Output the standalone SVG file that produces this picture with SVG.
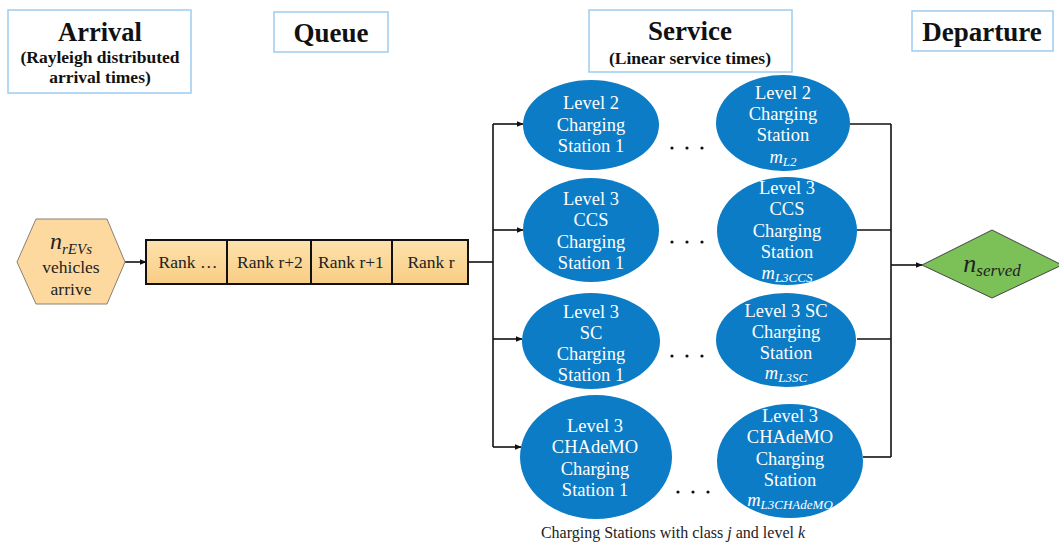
<svg xmlns="http://www.w3.org/2000/svg" width="1059" height="542" viewBox="0 0 1059 542">
<defs>
<style>
.hdr{fill:#fff;stroke:#9dcdf0;stroke-width:1.5}
.ht{font-family:"Liberation Serif","Times New Roman",serif;font-weight:bold;text-anchor:middle;fill:#111}
.el{fill:#0b7cc5}
.et{font-family:"Liberation Serif","Times New Roman",serif;font-size:18.5px;fill:#fff;text-anchor:middle}
.q{font-family:"Liberation Serif","Times New Roman",serif;font-size:17.5px;fill:#222;text-anchor:middle}
.ln{fill:none;stroke:#111;stroke-width:1.6}
.dot{fill:#111}
</style>
<marker id="ar" viewBox="0 0 10 10" refX="9" refY="5" markerWidth="7" markerHeight="7" orient="auto" markerUnits="userSpaceOnUse">
<path d="M0,1 L10,5 L0,9 z" fill="#111"/>
</marker>
<linearGradient id="qg" x1="0" y1="0" x2="0" y2="1">
<stop offset="0" stop-color="#fde2ad"/>
<stop offset="1" stop-color="#f8cd84"/>
</linearGradient>
</defs>

<g id="hdr-arrival">
<rect class="hdr" x="8" y="10" width="183" height="83"/>
<text class="ht" x="100" y="41" font-size="26.5">Arrival</text>
<text class="ht" x="100" y="63" font-size="17.5">(Rayleigh distributed</text>
<text class="ht" x="100" y="83" font-size="17.5">arrival times)</text>
</g>
<g id="hdr-queue">
<rect class="hdr" x="274" y="12" width="114" height="40"/>
<text class="ht" x="331" y="42" font-size="27">Queue</text>
</g>
<g id="hdr-service">
<rect class="hdr" x="589" y="10" width="203" height="62"/>
<text class="ht" x="690" y="40" font-size="27">Service</text>
<text class="ht" x="690" y="64" font-size="17.5">(Linear service times)</text>
</g>
<g id="hdr-departure">
<rect class="hdr" x="912" y="11" width="141" height="40"/>
<text class="ht" x="982" y="41" font-size="27">Departure</text>
</g>

<g id="connectors">
<line class="ln" x1="125" y1="262" x2="146" y2="262" marker-end="url(#ar)"/>
<polyline class="ln" points="468,262 493,262"/>
<line class="ln" x1="493" y1="124" x2="493" y2="447"/>
<line class="ln" x1="493" y1="124" x2="523" y2="124" marker-end="url(#ar)"/>
<line class="ln" x1="493" y1="230" x2="523" y2="230" marker-end="url(#ar)"/>
<line class="ln" x1="493" y1="339" x2="522" y2="339" marker-end="url(#ar)"/>
<line class="ln" x1="493" y1="447" x2="521" y2="447" marker-end="url(#ar)"/>
<line class="ln" x1="891" y1="124" x2="891" y2="457"/>
<line class="ln" x1="850" y1="124" x2="891" y2="124"/>
<line class="ln" x1="857" y1="230" x2="891" y2="230"/>
<line class="ln" x1="857" y1="339" x2="891" y2="339"/>
<line class="ln" x1="863" y1="457" x2="891" y2="457"/>
<line class="ln" x1="891" y1="265" x2="922" y2="265" marker-end="url(#ar)"/>
</g>

<g id="arrive">
<polygon points="17,262 36,219 107,219 125,262 107,304 36,304" fill="#fdd9a0" stroke="#8a8070" stroke-width="1"/>
<text x="71" y="249" font-family="Liberation Serif,serif" font-style="italic" text-anchor="middle" fill="#222"><tspan font-size="24">n</tspan><tspan font-size="15" dy="5">rEVs</tspan></text>
<text class="q" x="71" y="273" font-size="18.5">vehicles</text>
<text class="q" x="71" y="295" font-size="18.5">arrive</text>
</g>

<g id="queue">
<rect x="146" y="240" width="322" height="44" fill="url(#qg)" stroke="#111" stroke-width="2"/>
<line x1="227" y1="240" x2="227" y2="284" stroke="#111" stroke-width="2"/>
<line x1="311" y1="240" x2="311" y2="284" stroke="#111" stroke-width="2"/>
<line x1="392" y1="240" x2="392" y2="284" stroke="#111" stroke-width="2"/>
<text class="q" x="188" y="268">Rank …</text>
<text class="q" x="270" y="268">Rank r+2</text>
<text class="q" x="351" y="268">Rank r+1</text>
<text class="q" x="431" y="268">Rank r</text>
</g>

<g id="l2-1">
<ellipse class="el" cx="591" cy="125" rx="68" ry="45"/>
<text class="et" x="591" y="109">Level 2</text>
<text class="et" x="591" y="131">Charging</text>
<text class="et" x="591" y="152">Station 1</text>
</g>
<g id="l2-m">
<ellipse class="el" cx="783" cy="123" rx="67" ry="48"/>
<text class="et" x="783" y="99">Level 2</text>
<text class="et" x="783" y="120">Charging</text>
<text class="et" x="783" y="141">Station</text>
<text class="et" x="783" y="163" font-style="italic"><tspan>m</tspan><tspan font-size="13" dy="3">L2</tspan></text>
</g>
<g id="ccs-1">
<ellipse class="el" cx="591" cy="230" rx="68" ry="52"/>
<text class="et" x="591" y="205">Level 3</text>
<text class="et" x="591" y="226">CCS</text>
<text class="et" x="591" y="248">Charging</text>
<text class="et" x="591" y="269">Station 1</text>
</g>
<g id="ccs-m">
<ellipse class="el" cx="787" cy="231" rx="70" ry="54"/>
<text class="et" x="787" y="194">Level 3</text>
<text class="et" x="787" y="215">CCS</text>
<text class="et" x="787" y="237">Charging</text>
<text class="et" x="787" y="258">Station</text>
<text class="et" x="787" y="279" font-style="italic"><tspan>m</tspan><tspan font-size="13" dy="3">L3CCS</tspan></text>
</g>
<g id="sc-1">
<ellipse class="el" cx="591" cy="341" rx="69" ry="48"/>
<text class="et" x="591" y="318">Level 3</text>
<text class="et" x="591" y="339">SC</text>
<text class="et" x="591" y="360">Charging</text>
<text class="et" x="591" y="381">Station 1</text>
</g>
<g id="sc-m">
<ellipse class="el" cx="786" cy="340" rx="70" ry="47"/>
<text class="et" x="786" y="317">Level 3 SC</text>
<text class="et" x="786" y="338">Charging</text>
<text class="et" x="786" y="359">Station</text>
<text class="et" x="786" y="379" font-style="italic"><tspan>m</tspan><tspan font-size="13" dy="3">L3SC</tspan></text>
</g>
<g id="chademo-1">
<ellipse class="el" cx="596" cy="457" rx="76" ry="62"/>
<text class="et" x="595" y="432">Level 3</text>
<text class="et" x="595" y="453">CHAdeMO</text>
<text class="et" x="595" y="475">Charging</text>
<text class="et" x="595" y="496">Station 1</text>
</g>
<g id="chademo-m">
<ellipse class="el" cx="790" cy="461" rx="73" ry="57"/>
<text class="et" x="790" y="422">Level 3</text>
<text class="et" x="790" y="443">CHAdeMO</text>
<text class="et" x="790" y="465">Charging</text>
<text class="et" x="790" y="486">Station</text>
<text class="et" x="790" y="506" font-style="italic"><tspan>m</tspan><tspan font-size="13" dy="3">L3CHAdeMO</tspan></text>
</g>

<g id="dots">
<circle class="dot" cx="672" cy="148" r="1.6"/><circle class="dot" cx="687" cy="148" r="1.6"/><circle class="dot" cx="702" cy="148" r="1.6"/>
<circle class="dot" cx="672" cy="242" r="1.6"/><circle class="dot" cx="687" cy="242" r="1.6"/><circle class="dot" cx="702" cy="242" r="1.6"/>
<circle class="dot" cx="672" cy="356" r="1.6"/><circle class="dot" cx="687" cy="356" r="1.6"/><circle class="dot" cx="702" cy="356" r="1.6"/>
<circle class="dot" cx="678" cy="492" r="1.6"/><circle class="dot" cx="693" cy="492" r="1.6"/><circle class="dot" cx="708" cy="492" r="1.6"/>
</g>

<g id="served">
<polygon points="922,265 992,230 1062,265 992,298" fill="#7cc157" stroke="#444" stroke-width="1"/>
<text x="992" y="272" font-family="Liberation Serif,serif" font-style="italic" text-anchor="middle" fill="#222"><tspan font-size="26">n</tspan><tspan font-size="17" dy="4">served</tspan></text>
</g>

<g id="caption">
<text x="673" y="538" font-family="Liberation Serif,serif" font-size="16" text-anchor="middle" fill="#222">Charging Stations with class <tspan font-style="italic">j</tspan> and level <tspan font-style="italic">k</tspan></text>
</g>
</svg>
